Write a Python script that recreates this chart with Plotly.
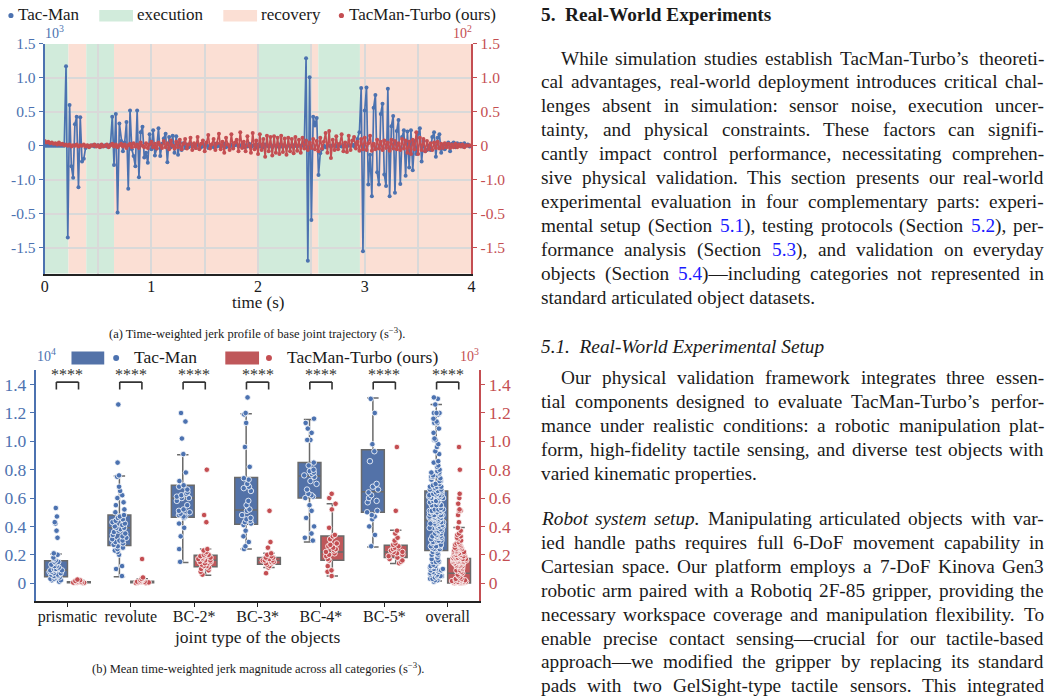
import plotly.graph_objects as go

W, H = 1051, 700
BLUE = "#4c72b0"
RED = "#c44e52"
BOX_BLUE = "#5372a8"
BOX_RED = "#bf575a"
BOX_EDGE = "#6a6a6a"
EXEC_COLOR = "#d1ebdb"
RECOV_COLOR = "#fbdfd4"
GRID = "#d9d9d9"
SERIF = "Liberation Serif"
TXT = "#1a1a1a"
LINK = "#1a1aff"

# ---------------- (a) time-weighted jerk profile ----------------
time_step_s = 1 / 60
tacman_jerk = [
    0, 0, 0, 0, 0, 0, 0, 0, 0, 0,
    0, 0, 1.17, -1.35, 0.60, -0.30, -0.47, 0.32, 0.43, -0.61,
    0.42, -0.23, -0.19, -0.03, 0.00, -0.01, 0.00, 0.01, -0.01, 0.00,
    0.01, 0.00, -0.01, 0.00, 0.01, -0.01, 0.00, 0.02, 0.43, -0.28,
    0.47, -0.98, 0.33, 0.07, -0.08, 0.05, 0.35, -0.63, 0.52, -0.05,
    -0.15, -0.30, 0.52, -0.46, 0.20, 0.28, -0.17, -0.10, -0.25, 0.17,
    -0.05, 0.23, -0.14, -0.04, 0.26, -0.15, 0.03, 0.11, 0.18, -0.24,
    0.13, -0.02, 0.15, -0.10, 0.14, -0.13, 0.05, -0.06, 0.04, -0.03,
    0.02, -0.02, 0.03, -0.01, 0.01, -0.03, 0.02, 0.00, -0.02, 0.03,
    -0.01, 0.02, -0.03, 0.01, 0.00, -0.02, 0.03, -0.01, 0.02, -0.02,
    0.01, 0.03, -0.02, 0.00, -0.01, 0.02, -0.03, 0.01, 0.02, -0.01,
    0.00, 0.02, -0.02, 0.01, -0.01, 0.03, -0.02, 0.00, 0.01, -0.02,
    0.02, -0.01, 0.01, -0.02, 0.02, 0.00, -0.01, 0.02, -0.02, 0.01,
    0.00, -0.01, 0.02, -0.01, 0.01, 0.00, -0.02, 0.01, 0.00, -0.01,
    0.01, 0.00, -0.01, 0.01, 0.00, 0.00, 0.01, 1.29, -1.69, 1.01,
    -1.09, 0.43, 0.30, 0.41, -0.43, -0.11, -0.05, 0.00, -0.02, 0.01,
    0.00, -0.01, 0.01, 0.00, -0.01, 0.02, 0.00, -0.01, 0.01, 0.00,
    -0.01, 0.01, 0.00, 0.02, -0.01, 0.03, 0.10, 0.20, 0.85, -1.55,
    0.52, 0.86, -0.57, -0.13, -0.74, 0.56, 0.75, -0.39, -0.57, 0.47,
    0.62, -0.42, -0.59, 0.84, -0.74, 0.29, 0.44, -0.69, 0.22, 0.38,
    -0.56, 0.13, 0.23, -0.44, 0.21, -0.32, 0.23, -0.36, 0.07, -0.12,
    0.18, 0.26, -0.23, 0.07, -0.08, -0.06, 0.00, -0.06, 0.13, 0.20,
    -0.16, 0.12, 0.17, -0.10, 0.00, -0.05, 0.02, 0.05, -0.08, 0.03,
    0.05, -0.02, 0.04, 0.00, 0.03, -0.01, 0.04, 0.00, 0.02, -0.01, 0.00,
]
turbo_jerk = [
    0.07, 0.05, 0.06, 0.04, 0.05, 0.03, 0.04, 0.02, 0.05, 0.02,
    0.03, 0.01, 0.02, 0.00, 0.02, -0.01, 0.01, 0.00, 0.02, -0.01,
    0.01, 0.00, 0.02, -0.01, 0.01, -0.02, 0.01, 0.00, 0.02, -0.01,
    0.01, -0.02, 0.02, -0.01, 0.00, 0.02, -0.02, 0.01, 0.03, -0.01,
    0.02, -0.02, 0.01, 0.03, -0.01, 0.02, -0.03, 0.01, 0.03, -0.02,
    0.04, -0.01, 0.02, -0.03, 0.05, 0.00, -0.02, 0.04, -0.03, 0.02,
    0.06, -0.02, 0.03, -0.04, 0.05, 0.01, -0.03, 0.07, -0.02, 0.04,
    -0.05, 0.08, 0.00, -0.04, 0.06, -0.02, 0.09, -0.05, 0.03, 0.10,
    -0.04, 0.02, 0.12, -0.06, 0.04, -0.03, 0.13, -0.05, 0.03, 0.08,
    -0.08, 0.05, 0.16, -0.04, 0.02, 0.10, -0.06, 0.04, 0.18, -0.05,
    0.06, -0.10, 0.12, 0.02, -0.06, 0.17, -0.04, 0.05, 0.09, -0.08,
    0.20, -0.03, 0.06, -0.08, 0.14, 0.00, -0.10, 0.19, -0.05, 0.08,
    -0.12, 0.17, -0.06, 0.10, -0.16, 0.15, -0.08, 0.13, -0.14, 0.14,
    -0.10, 0.12, -0.12, 0.15, -0.09, 0.11, -0.13, 0.12, -0.08, 0.10,
    -0.11, 0.13, -0.07, 0.09, -0.10, 0.12, -0.04, 0.08, -0.06, 0.05,
    -0.03, 0.10, -0.05, 0.07, -0.08, 0.12, -0.04, 0.06, 0.19, -0.10,
    0.22, -0.18, 0.09, -0.06, 0.14, -0.05, 0.03, 0.17, -0.08, 0.05,
    -0.09, 0.15, -0.06, 0.08, 0.13, -0.04, 0.06, -0.07, 0.10, -0.05,
    0.12, -0.06, 0.04, 0.15, -0.07, 0.03, -0.05, 0.09, -0.04, 0.06,
    -0.06, 0.08, -0.03, 0.05, -0.07, 0.09, -0.04, 0.07, -0.05, 0.04,
    -0.06, 0.10, -0.04, 0.08, -0.10, 0.06, -0.12, 0.09, -0.05, 0.20,
    -0.12, 0.12, -0.06, 0.10, -0.08, 0.07, -0.05, 0.04, -0.06, 0.05,
    -0.03, 0.06, -0.04, 0.03, -0.03, 0.04, -0.02, 0.03, -0.03, 0.02,
    -0.02, 0.03, -0.02, 0.02, -0.01, 0.02, -0.02, 0.01, 0.00, 0.01, 0.00,
]
phase_start = [0.0, 0.223, 0.39, 0.65, 2.0, 2.49, 2.565, 2.955]
phase_end = [0.223, 0.39, 0.65, 2.0, 2.49, 2.565, 2.955, 4.0]
phase_kind = ["execution", "recovery", "execution", "recovery",
              "execution", "recovery", "execution", "recovery"]
jerk_tickvals = [-1.5, -1.0, -0.5, 0, 0.5, 1.0, 1.5]
jerk_ticktext = ["-1.5", "-0.5", "-1.0", "0", "0.5", "1.0", "1.5"]
time_tickvals = [0, 1, 2, 3, 4]
time_ticktext = ["0", "1", "2", "3", "4"]
time_minor_gridvals = [0.5, 1.5, 2.5, 3.5]

# ---------------- (b) mean time-weighted jerk per category ----------------
joint_types = ["prismatic", "revolute", "BC-2*", "BC-3*", "BC-4*", "BC-5*", "overall"]

tacman_q1 = [0.045, 0.265, 0.465, 0.415, 0.60, 0.50, 0.23]
tacman_median = [0.09, 0.39, 0.60, 0.515, 0.755, 0.645, 0.445]
tacman_q3 = [0.157, 0.48, 0.69, 0.745, 0.85, 0.94, 0.65]
tacman_low = [0.02, 0.045, 0.145, 0.24, 0.29, 0.255, 0.015]
tacman_high = [0.205, 0.755, 0.905, 1.195, 1.155, 1.305, 1.26]

turbo_q1 = [0.002, 0.003, 0.115, 0.134, 0.162, 0.181, 0.0]
turbo_median = [0.005, 0.008, 0.162, 0.16, 0.22, 0.22, 0.07]
turbo_q3 = [0.009, 0.014, 0.197, 0.181, 0.333, 0.268, 0.174]
turbo_low = [0.0, 0.0, 0.056, 0.11, 0.05, 0.139, 0.0]
turbo_high = [0.02, 0.03, 0.24, 0.21, 0.56, 0.373, 0.392]

tacman_prismatic = [0.53, 0.47, 0.43, 0.42, 0.37, 0.32, 0.21, 0.20, 0.18, 0.17, 0.16, 0.15, 0.15,
                    0.14, 0.13, 0.12, 0.12, 0.11, 0.10, 0.10, 0.09, 0.09, 0.09, 0.08, 0.08, 0.07,
                    0.07, 0.06, 0.06, 0.05, 0.05, 0.04, 0.04, 0.03, 0.03, 0.02, 0.02, 0.01]
tacman_revolute = [1.26, 0.85, 0.76, 0.75, 0.68, 0.65, 0.62, 0.60, 0.57, 0.55, 0.52, 0.50, 0.48,
                   0.47, 0.46, 0.45, 0.44, 0.43, 0.42, 0.41, 0.40, 0.39, 0.39, 0.38, 0.37, 0.36,
                   0.35, 0.34, 0.33, 0.32, 0.31, 0.30, 0.30, 0.29, 0.28, 0.27, 0.26, 0.25, 0.24,
                   0.23, 0.22, 0.20, 0.12, 0.10, 0.05]
tacman_bc2 = [1.20, 1.14, 1.02, 0.91, 0.78, 0.72, 0.69, 0.68, 0.66, 0.64, 0.63, 0.62, 0.61, 0.60,
              0.60, 0.58, 0.55, 0.52, 0.51, 0.50, 0.49, 0.48, 0.47, 0.47, 0.46, 0.42, 0.39, 0.33,
              0.24, 0.15]
tacman_bc3 = [1.31, 1.20, 1.19, 1.13, 0.96, 0.82, 0.74, 0.73, 0.70, 0.68, 0.67, 0.65, 0.58, 0.55,
              0.52, 0.51, 0.48, 0.46, 0.45, 0.44, 0.43, 0.42, 0.41, 0.37, 0.33, 0.29, 0.26, 0.24]
tacman_bc4 = [1.16, 1.13, 1.09, 1.06, 1.01, 1.01, 0.85, 0.83, 0.80, 0.79, 0.78, 0.77, 0.76, 0.75,
              0.72, 0.70, 0.66, 0.63, 0.62, 0.61, 0.60, 0.55, 0.51, 0.46, 0.40, 0.35, 0.32, 0.30]
tacman_bc5 = [1.30, 1.20, 0.98, 0.93, 0.86, 0.70, 0.68, 0.66, 0.64, 0.62, 0.60, 0.58, 0.57, 0.51,
              0.50, 0.48, 0.47, 0.45, 0.40, 0.34, 0.26]

turbo_prismatic = [0.025, 0.02, 0.015, 0.012, 0.01, 0.008, 0.006, 0.005, 0.004, 0.003, 0.002, 0.0]
turbo_revolute = [0.17, 0.04, 0.03, 0.03, 0.02, 0.02, 0.02, 0.01, 0.01, 0.01, 0.01, 0.01,
                  0.005, 0.005, 0.0, 0.0]
turbo_bc2 = [0.80, 0.48, 0.43, 0.24, 0.23, 0.22, 0.21, 0.20, 0.20, 0.19, 0.19, 0.18, 0.18, 0.17,
             0.17, 0.16, 0.16, 0.15, 0.15, 0.14, 0.14, 0.13, 0.12, 0.12, 0.11, 0.10, 0.09, 0.08,
             0.06]
turbo_bc3 = [0.51, 0.29, 0.25, 0.21, 0.20, 0.19, 0.18, 0.18, 0.17, 0.17, 0.16, 0.16, 0.16, 0.15,
             0.15, 0.14, 0.14, 0.13, 0.12, 0.11, 0.07]
turbo_bc4 = [0.63, 0.60, 0.56, 0.52, 0.39, 0.34, 0.33, 0.31, 0.28, 0.27, 0.26, 0.25, 0.24, 0.23,
             0.22, 0.21, 0.20, 0.19, 0.17, 0.16, 0.12, 0.09, 0.08, 0.05]
turbo_bc5 = [0.96, 0.51, 0.37, 0.35, 0.32, 0.30, 0.28, 0.27, 0.26, 0.25, 0.24, 0.23, 0.22, 0.22,
             0.21, 0.20, 0.19, 0.18, 0.17, 0.16, 0.15, 0.14]

jerk_b_tickvals = [0, 0.2, 0.4, 0.6, 0.8, 1.0, 1.2, 1.4]
jerk_b_ticktext = ["0", "0.2", "0.4", "0.6", "0.8", "1.0", "1.2", "1.4"]

tacman_groups = [tacman_prismatic, tacman_revolute, tacman_bc2, tacman_bc3, tacman_bc4, tacman_bc5]
turbo_groups = [turbo_prismatic, turbo_revolute, turbo_bc2, turbo_bc3, turbo_bc4, turbo_bc5]


def expand(groups):
    xs, ys = [], []
    for cat, vals in zip(joint_types[:-1], groups):
        xs += [cat] * len(vals)
        ys += vals
    for vals in groups:  # "overall" pools every category
        xs += ["overall"] * len(vals)
        ys += vals
    return xs, ys


def px(x):
    return x / W


# vertical placement: the photographed page shows content shifted by ~8px and
# slightly squeezed vertically; map target pixel rows accordingly
V_OFF, V_SCALE = 8.0, 0.9886


def py(t):
    return 1 - ((t - V_OFF) / V_SCALE) / H


fig = go.Figure()

fig.add_trace(go.Scatter(
    x0=0, dx=time_step_s, y=tacman_jerk, mode="lines+markers",
    line=dict(color=BLUE, width=1.7), marker=dict(color=BLUE, size=4),
    xaxis="x", yaxis="y", name="Tac-Man", hoverinfo="skip"))
fig.add_trace(go.Scatter(
    x0=0, dx=time_step_s, y=turbo_jerk, mode="lines+markers",
    line=dict(color=RED, width=1.7), marker=dict(color=RED, size=4),
    xaxis="x", yaxis="y2", name="TacMan-Turbo (ours)", hoverinfo="skip"))

fig.add_trace(go.Box(
    x=joint_types, q1=tacman_q1, median=tacman_median, q3=tacman_q3,
    lowerfence=tacman_low, upperfence=tacman_high, boxpoints=False,
    fillcolor=BOX_BLUE, line=dict(color=BOX_EDGE, width=1.5), whiskerwidth=0.5,
    offsetgroup="tm", xaxis="x2", yaxis="y3", hoverinfo="skip"))
fig.add_trace(go.Box(
    x=joint_types, q1=turbo_q1, median=turbo_median, q3=turbo_q3,
    lowerfence=turbo_low, upperfence=turbo_high, boxpoints=False,
    fillcolor=BOX_RED, line=dict(color=BOX_EDGE, width=1.5), whiskerwidth=0.5,
    offsetgroup="tt", xaxis="x2", yaxis="y3", hoverinfo="skip"))

for groups, col, og in [(tacman_groups, BLUE, "tm"), (turbo_groups, RED, "tt")]:
    xs, ys = expand(groups)
    fig.add_trace(go.Box(
        x=xs, y=ys, boxpoints="all", jitter=0.65, pointpos=0,
        fillcolor="rgba(0,0,0,0)", line=dict(color="rgba(0,0,0,0)", width=0),
        marker=dict(color=col, size=5.5, line=dict(color="white", width=0.8)),
        offsetgroup=og, xaxis="x2", yaxis="y3", hoverinfo="skip"))

fig.add_trace(go.Scatter(x=[], y=[], xaxis="x2", yaxis="y4", hoverinfo="skip"))

shapes = []
for s, e, k in zip(phase_start, phase_end, phase_kind):
    shapes.append(dict(type="rect", xref="x", yref="y domain", x0=s, x1=e, y0=0, y1=1,
                       fillcolor=EXEC_COLOR if k == "execution" else RECOV_COLOR,
                       line=dict(width=0), layer="below"))

for k in range(len(joint_types)):
    for (xa, ya, xb, yb) in [(k - 0.175, 1.366, k - 0.175, 1.418),
                             (k - 0.175, 1.418, k + 0.175, 1.418),
                             (k + 0.175, 1.418, k + 0.175, 1.366)]:
        shapes.append(dict(type="line", xref="x2", yref="y3", x0=xa, y0=ya, x1=xb, y1=yb,
                           line=dict(color="#333333", width=1.6)))


def rect_px(x0, y0, x1, y1, color):
    return dict(type="rect", xref="paper", yref="paper", x0=px(x0), x1=px(x1),
                y0=py(y1), y1=py(y0), fillcolor=color, line=dict(width=0))


def dot_px(cx, cy, r, color):
    return dict(type="circle", xref="paper", yref="paper", x0=px(cx - r), x1=px(cx + r),
                y0=py(cy + r), y1=py(cy - r), fillcolor=color, line=dict(width=0))


shapes += [dot_px(7, 14.5, 2.6, BLUE), rect_px(96, 9, 130, 20.5, EXEC_COLOR),
           rect_px(221, 9, 255, 20.5, RECOV_COLOR), dot_px(340, 14.5, 2.6, RED)]
shapes += [rect_px(68, 351, 101, 364, BOX_BLUE), dot_px(113, 357.5, 3, BLUE),
           rect_px(223, 351, 257, 364, BOX_RED), dot_px(267, 357.5, 3, RED)]

annotations = []


def txt(x, y, text, size, color=TXT, xanchor="left", yanchor="middle"):
    annotations.append(dict(x=px(x), y=py(y), xref="paper", yref="paper", text=text,
                            showarrow=False, xanchor=xanchor, yanchor=yanchor,
                            borderpad=0, borderwidth=0,
                            font=dict(family=SERIF, size=size, color=color)))


txt(14, 14, "Tac-Man", 17)
txt(134, 14, "execution", 17)
txt(259, 14, "recovery", 17)
txt(348, 14, "TacMan-Turbo (ours)", 17)
txt(51, 31, "10<sup>3</sup>", 14, BLUE, "center")
txt(462, 31, "10<sup>2</sup>", 14, RED, "center")
txt(256, 302, "time (s)", 17, TXT, "center")
txt(255, 332, "(a) Time-weighted jerk profile of base joint trajectory (s<sup>−3</sup>).", 12.5, TXT, "center")

txt(43, 355, "10<sup>4</sup>", 14, BLUE, "center")
txt(131, 357, "Tac-Man", 17.5)
txt(285, 357, "TacMan-Turbo (ours)", 17.5)
txt(469, 355, "10<sup>3</sup>", 14, RED, "center")
txt(255, 637, "joint type of the objects", 17.5, TXT, "center")
txt(256, 668, "(b) Mean time-weighted jerk magnitude across all categories (s<sup>−3</sup>).", 12.5, TXT, "center")

for cat in joint_types:
    annotations.append(dict(x=cat, y=1.47, xref="x2", yref="y3", text="****", showarrow=False,
                            xanchor="center", yanchor="middle", borderpad=0,
                            font=dict(family=SERIF, size=16, color="#333333")))

# ---------------- right column text (justified word by word) ----------------
BODY = 19.3
LEFT, RIGHT, INDENT = 541, 1048, 561

ROMAN_W = {" ": 250, "(": 333, ")": 333, ",": 250, "-": 333, ".": 250, ":": 278, ";": 278,
           "*": 500, "’": 333, "—": 1000,
           "a": 444, "b": 500, "c": 444, "d": 500, "e": 444, "f": 333, "g": 500, "h": 500,
           "i": 278, "j": 278, "k": 500, "l": 278, "m": 778, "n": 500, "o": 500, "p": 500,
           "q": 500, "r": 333, "s": 389, "t": 278, "u": 500, "v": 500, "w": 722, "x": 500,
           "y": 500, "z": 444,
           "A": 722, "B": 667, "C": 667, "D": 722, "E": 611, "F": 556, "G": 722, "H": 722,
           "I": 333, "J": 389, "K": 722, "L": 611, "M": 889, "N": 722, "O": 722, "P": 556,
           "Q": 722, "R": 667, "S": 556, "T": 611, "U": 722, "V": 722, "W": 944, "X": 722,
           "Y": 722, "Z": 611}
ITALIC_W = {" ": 250, ".": 250, "a": 500, "b": 500, "c": 444, "d": 500, "e": 444, "f": 278,
            "g": 500, "h": 500, "i": 278, "k": 444, "l": 278, "m": 722, "n": 500, "o": 500,
            "p": 500, "r": 389, "s": 389, "t": 278, "u": 500, "y": 444, "R": 611}


def word_width(word, italic=False):
    table = ITALIC_W if italic else ROMAN_W
    return sum(table.get(ch, 500) for ch in word) * BODY / 1000


def render_word(word):
    if word.startswith("<i>"):
        plain = word.replace("<i>", "").replace("</i>", "")
        return word, plain, True
    plain = word.replace("{", "").replace("}", "")
    markup = word.replace("{", f"<span style='color:{LINK}'>").replace("}", "</span>")
    return markup, plain, False


body_lines = [
    # (y, text, justified, indented)
    (58, "While simulation studies establish TacMan-Turbo’s theoreti-", True, True),
    (81, "cal advantages, real-world deployment introduces critical chal-", True, False),
    (105, "lenges absent in simulation: sensor noise, execution uncer-", True, False),
    (129, "tainty, and physical constraints. These factors can signifi-", True, False),
    (153, "cantly impact control performance, necessitating comprehen-", True, False),
    (177, "sive physical validation. This section presents our real-world", True, False),
    (201, "experimental evaluation in four complementary parts: experi-", True, False),
    (225, "mental setup (Section {5.1}), testing protocols (Section {5.2}), per-", True, False),
    (249, "formance analysis (Section {5.3}), and validation on everyday", True, False),
    (273, "objects (Section {5.4})—including categories not represented in", True, False),
    (297, "standard articulated object datasets.", False, False),
    (377, "Our physical validation framework integrates three essen-", True, True),
    (401, "tial components designed to evaluate TacMan-Turbo’s perfor-", True, False),
    (425, "mance under realistic conditions: a robotic manipulation plat-", True, False),
    (449, "form, high-fidelity tactile sensing, and diverse test objects with", True, False),
    (473, "varied kinematic properties.", False, False),
    (518, "<i>Robot</i> <i>system</i> <i>setup.</i> Manipulating articulated objects with var-", True, False),
    (542, "ied handle paths requires full 6-DoF movement capability in", True, False),
    (566, "Cartesian space. Our platform employs a 7-DoF Kinova Gen3", True, False),
    (590, "robotic arm paired with a Robotiq 2F-85 gripper, providing the", True, False),
    (614, "necessary workspace coverage and manipulation flexibility. To", True, False),
    (638, "enable precise contact sensing—crucial for our tactile-based", True, False),
    (661, "approach—we modified the gripper by replacing its standard", True, False),
    (685, "pads with two GelSight-type tactile sensors. This integrated", True, False),
]

txt(LEFT, 14, "<b>5.\u2002Real-World Experiments</b>", BODY)
txt(LEFT, 346, "<i>5.1.\u2002Real-World Experimental Setup</i>", BODY)

for y, line, justified, indented in body_lines:
    x_start = INDENT if indented else LEFT
    words = [render_word(w) for w in line.split(" ")]
    if not justified:
        txt(x_start, y, " ".join(m for m, _, _ in words), BODY)
        continue
    widths = [word_width(p, it) for _, p, it in words]
    gap = (RIGHT - x_start - sum(widths)) / (len(words) - 1)
    x = x_start
    for i, ((markup, _, _), w) in enumerate(zip(words, widths)):
        if i == len(words) - 1:
            txt(RIGHT, y, markup, BODY, TXT, "right")
        else:
            txt(x, y, markup, BODY)
        x += w + gap

axis_font = dict(family=SERIF, size=15.5)
fig.update_layout(
    width=W, height=H, autosize=False,
    margin=dict(l=0, r=0, t=0, b=0, pad=0),
    paper_bgcolor="white", plot_bgcolor="white",
    showlegend=False, boxmode="group", boxgap=0.28, boxgroupgap=0,
    shapes=shapes, annotations=annotations,
    xaxis=dict(domain=[px(41), px(471)], range=[0, 4], tickmode="array",
               tickvals=time_tickvals, ticktext=time_ticktext,
               minor=dict(tickmode="array", tickvals=time_minor_gridvals, showgrid=True,
                          gridcolor=GRID, gridwidth=1.5, ticks=""),
               showgrid=True, gridcolor=GRID, gridwidth=1.5, zeroline=False,
               showline=True, linecolor="#222222", linewidth=2, ticks="",
               ticklabelstandoff=-3,
               tickfont=dict(family=SERIF, size=16, color=TXT), anchor="y"),
    yaxis=dict(domain=[py(273), py(43)], range=[-1.88, 1.5], tickmode="array",
               tickvals=jerk_tickvals, ticktext=jerk_ticktext,
               showgrid=True, gridcolor=GRID, gridwidth=1.5, zeroline=False,
               showline=True, linecolor=BLUE, linewidth=2, ticks="outside", ticklen=4,
               tickcolor=BLUE, tickfont=dict(axis_font, color=BLUE), anchor="x"),
    yaxis2=dict(overlaying="y", side="right", anchor="x", range=[-1.88, 1.5],
                tickmode="array", tickvals=jerk_tickvals, ticktext=jerk_ticktext,
                showgrid=False, zeroline=False, showline=True, linecolor=RED, linewidth=2,
                ticks="outside", ticklen=4, tickcolor=RED,
                tickfont=dict(axis_font, color=RED)),
    xaxis2=dict(domain=[px(32), px(479)], type="category", categoryorder="array",
                categoryarray=joint_types, range=[-0.5, 6.5], anchor="y3",
                showgrid=False, zeroline=False, showline=True, linecolor="#222222",
                linewidth=2, ticks="outside", ticklen=4, tickcolor="#222222",
                ticklabelstandoff=-4,
                tickfont=dict(family=SERIF, size=16, color=TXT)),
    yaxis3=dict(domain=[py(601), py(370)], range=[-0.127, 1.5], anchor="x2",
                tickmode="array", tickvals=jerk_b_tickvals, ticktext=jerk_b_ticktext,
                showgrid=False, zeroline=False, showline=True, linecolor=BLUE, linewidth=2,
                ticks="outside", ticklen=4, tickcolor=BLUE,
                tickfont=dict(family=SERIF, size=17.5, color=BLUE)),
    yaxis4=dict(overlaying="y3", side="right", anchor="x2", range=[-0.127, 1.5],
                tickmode="array", tickvals=jerk_b_tickvals, ticktext=jerk_b_ticktext,
                showgrid=False, zeroline=False, showline=True, linecolor=RED, linewidth=2,
                ticks="outside", ticklen=4, tickcolor=RED,
                tickfont=dict(family=SERIF, size=17.5, color=RED)),
)

fig.write_html("out.html")
